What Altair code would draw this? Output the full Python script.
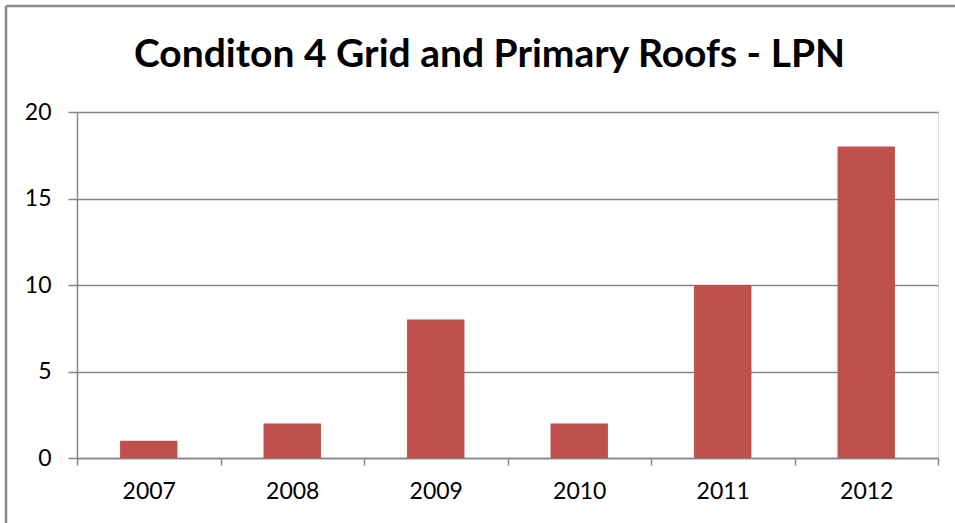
import altair as alt
import pandas as pd

years = ["2007", "2008", "2009", "2010", "2011", "2012"]
counts = [1, 2, 8, 2, 10, 18]
y_ticks = [0, 5, 10, 15, 20]
title_text = "Conditon 4 Grid and Primary Roofs - LPN"

df = pd.DataFrame({"year": years, "count": counts})

FONT = "Lato"
GRAY = "#868686"

bars = alt.Chart(df).mark_bar(color="#C0504D", width=alt.RelativeBandSize(0.4)).encode(
    x=alt.X("year:N", sort=years,
            scale=alt.Scale(paddingInner=0, paddingOuter=0),
            axis=alt.Axis(title=None, labelAngle=0, tickBand="extent",
                          domainColor=GRAY, tickColor=GRAY, tickSize=7,
                          domainWidth=1.5, tickWidth=1.5,
                          labelFont=FONT, labelFontSize=23, labelColor="black",
                          labelPadding=15, grid=False)),
    y=alt.Y("count:Q", scale=alt.Scale(domain=[0, 20], nice=False),
            axis=alt.Axis(title=None, values=y_ticks, grid=True, gridColor=GRAY,
                          gridWidth=1.5, domainColor=GRAY, domainWidth=1.5,
                          tickColor=GRAY, tickSize=9, tickWidth=1.5,
                          labelFont=FONT, labelFontSize=23, labelColor="black",
                          labelPadding=17)),
)

frame = alt.Data(values=[{"k": 1}])
top_border = alt.Chart(frame).mark_rule(color="#8c8c8c", strokeWidth=2.5).encode(
    x=alt.value(-71), x2=alt.value(890), y=alt.value(-106))
left_border = alt.Chart(frame).mark_rule(color="#8c8c8c", strokeWidth=2.5).encode(
    x=alt.value(-71), y=alt.value(-106), y2=alt.value(420))

chart = alt.layer(bars, top_border, left_border).properties(
    width=861, height=346,
    autosize=alt.AutoSizeParams(type="none"),
    padding={"left": 77, "top": 112, "right": 17, "bottom": 65},
    title=alt.TitleParams(title_text, font=FONT, fontSize=39, fontWeight="bold",
                          color="black", anchor="middle", frame="group",
                          baseline="alphabetic", dx=-18, dy=101, offset=0),
).configure_view(stroke=None).configure(background="white")

chart.save("out.html", embed_options={"renderer": "svg", "actions": False})
